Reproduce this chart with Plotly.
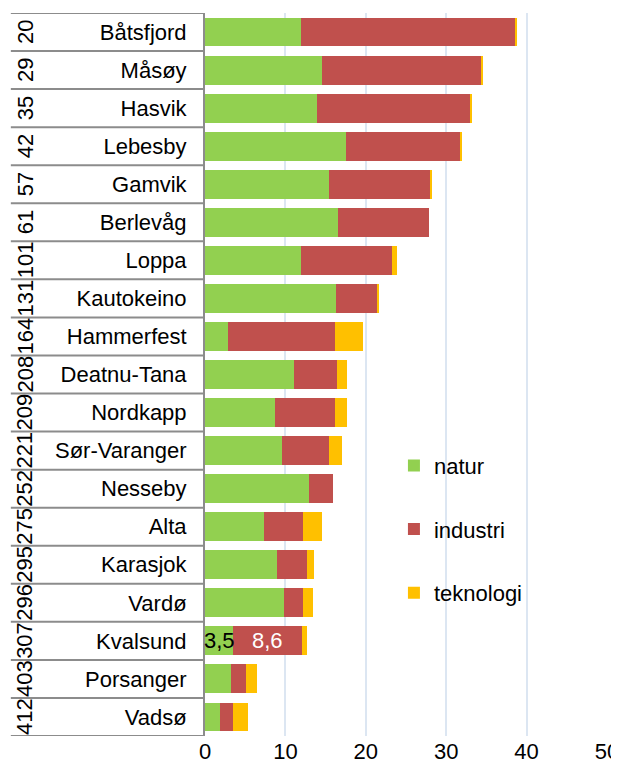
import plotly.graph_objects as go

kommuner = ['Båtsfjord', 'Måsøy', 'Hasvik', 'Lebesby', 'Gamvik', 'Berlevåg', 'Loppa',
            'Kautokeino', 'Hammerfest', 'Deatnu-Tana', 'Nordkapp', 'Sør-Varanger',
            'Nesseby', 'Alta', 'Karasjok', 'Vardø', 'Kvalsund', 'Porsanger', 'Vadsø']
rang = [20, 29, 35, 42, 57, 61, 101, 131, 164, 208, 209, 221, 252, 275, 295, 296, 307, 403, 412]

natur = [12.0, 14.5, 13.9, 17.5, 15.4, 16.5, 12.0, 16.3, 2.9, 11.1, 8.7, 9.6,
         12.9, 7.3, 9.0, 9.8, 3.5, 3.2, 1.9]
industri = [26.5, 19.9, 19.1, 14.2, 12.6, 11.4, 11.3, 5.1, 13.3, 5.3, 7.5, 5.8,
            3.0, 4.9, 3.7, 2.4, 8.6, 1.9, 1.6]
teknologi = [0.3, 0.2, 0.2, 0.25, 0.25, 0.0, 0.6, 0.25, 3.5, 1.2, 1.4, 1.6,
             0.0, 2.3, 0.8, 1.2, 0.6, 1.4, 1.9]

FONT = 'Liberation Sans, Arial, sans-serif'
FS = 22

fig = go.Figure()
serier = [('natur', natur, '#92D050'), ('industri', industri, '#C0504D'),
          ('teknologi', teknologi, '#FFC000')]
for navn, verdier, farge in serier:
    fig.add_trace(go.Bar(
        y=kommuner, x=verdier, name=navn, orientation='h',
        marker=dict(color=farge, line=dict(width=0)),
        legendgroup=navn,
    ))

# data labels for Kvalsund
k = kommuner.index('Kvalsund')
fig.add_annotation(x=natur[k] / 2, y=kommuner[k], text='3,5', showarrow=False,
                   font=dict(size=FS, color='#000000', family=FONT))
fig.add_annotation(x=natur[k] + industri[k] / 2, y=kommuner[k], text='8,6', showarrow=False,
                   font=dict(size=FS, color='#FFFFFF', family=FONT))

# rank numbers (rotated) in left column
for i, r in enumerate(rang):
    fig.add_annotation(x=0, xref='paper', y=i, yref='y', text=str(r), textangle=-90,
                       showarrow=False, xshift=-180, xanchor='center', yanchor='middle',
                       font=dict(size=FS, color='#000000', family=FONT))

# table lines
for i in range(len(kommuner) + 1):
    fig.add_shape(type='line', xref='paper', yref='y', x0=-0.483, x1=0,
                  y0=i - 0.5, y1=i - 0.5, line=dict(color='#8C8C8C', width=2))

# page body has an 8px margin, so the plot area is placed 8px up/left
fig.update_layout(
    barmode='stack',
    bargap=0.24,
    width=619, height=769,
    margin=dict(l=197, r=20, t=5, b=41),
    paper_bgcolor='white', plot_bgcolor='white',
    font=dict(family=FONT, size=FS, color='#000000'),
    legend=dict(x=0.47, y=0.403, xanchor='left', yanchor='top',
                traceorder='grouped', tracegroupgap=32,
                bgcolor='rgba(0,0,0,0)', font=dict(size=FS)),
    xaxis=dict(range=[0, 50], dtick=10, showgrid=True, gridcolor='#DCE6F2', gridwidth=2,
               zeroline=False, showline=False, ticks='', tickfont=dict(size=FS),
               automargin=False),
    yaxis=dict(range=[len(kommuner) - 0.5, -0.5], showline=True, linecolor='#8C8C8C',
               linewidth=2, ticks='', showgrid=False, ticklabelstandoff=12,
               tickfont=dict(size=FS), automargin=False),
)

fig.write_html('out.html')
